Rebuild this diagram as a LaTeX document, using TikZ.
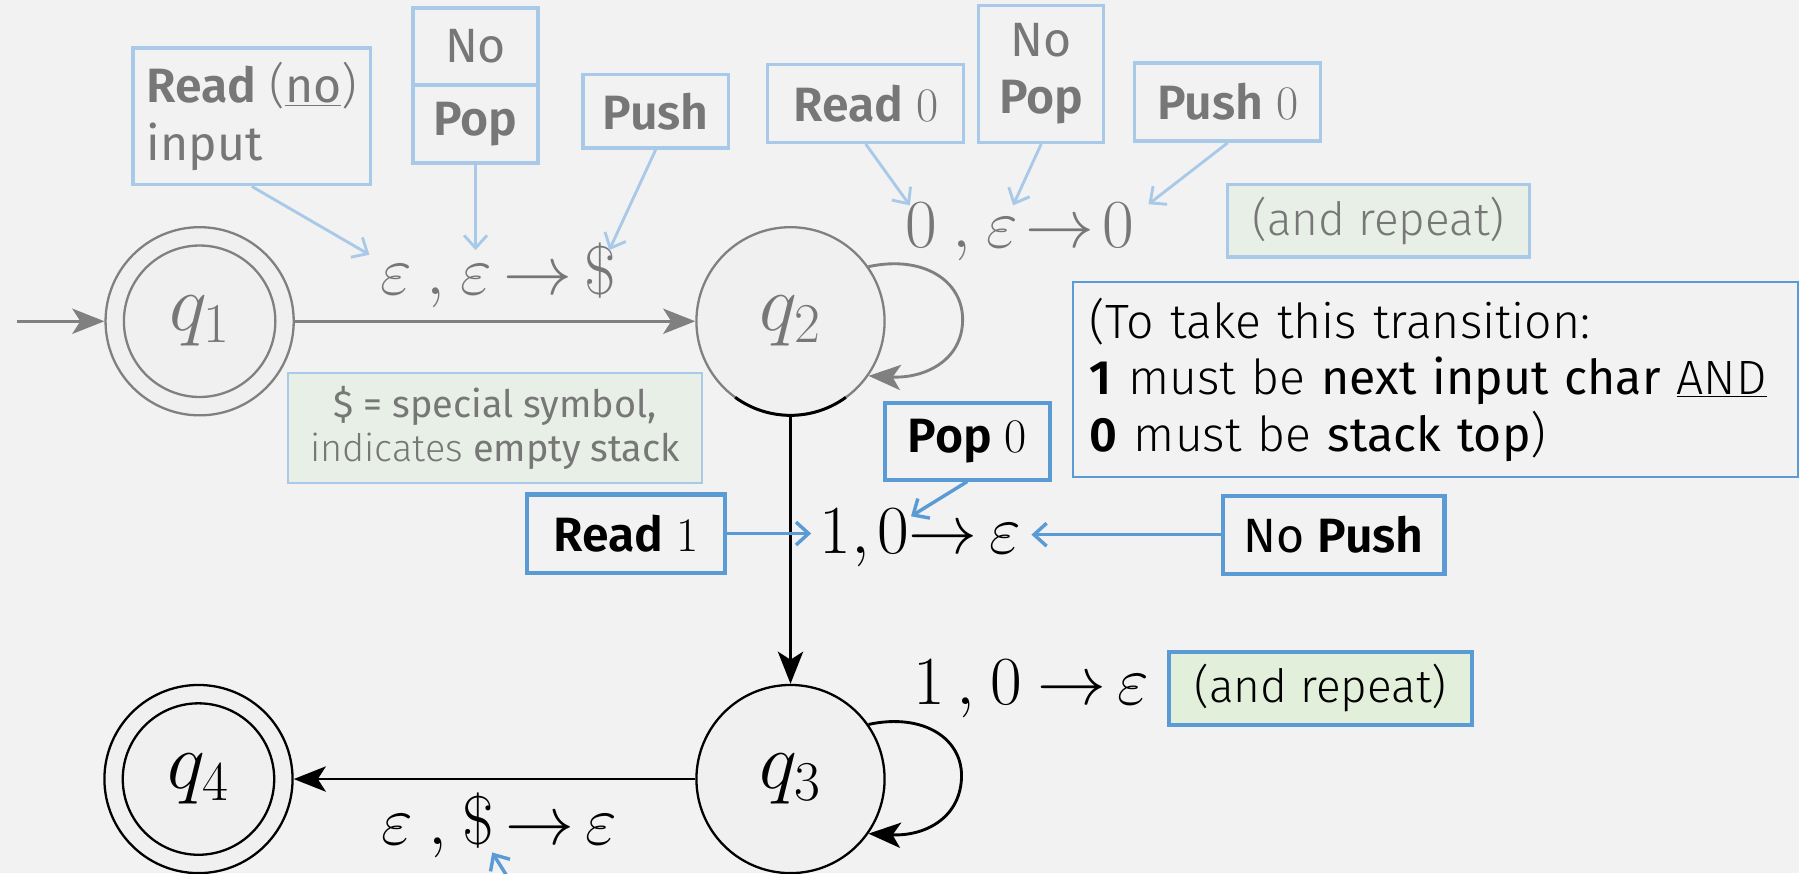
\documentclass[tikz,border=0pt]{standalone}
\usepackage{fix-cm}
\usepackage[no-math]{fontspec}
\usetikzlibrary{arrows.meta,calc}
\setmainfont{Fira Sans}
\IfFontExistsTF{FiraSans-Light.otf}
  {\newfontfamily\fsLight{FiraSans-Light.otf}}
  {\IfFontExistsTF{Fira Sans Light}{\newfontfamily\fsLight{Fira Sans Light}}{\newfontfamily\fsLight{Fira Sans}}}
\IfFontExistsTF{FiraSans-SemiBold.otf}
  {\newfontfamily\fsSemi{FiraSans-SemiBold.otf}}
  {\IfFontExistsTF{Fira Sans SemiBold}{\newfontfamily\fsSemi{Fira Sans SemiBold}}{\newcommand\fsSemi{\bfseries}}}

\definecolor{bg}{HTML}{F2F2F2}
\definecolor{statefill}{HTML}{F0F0F0}
\definecolor{fadeline}{HTML}{808080}
\definecolor{fadetext}{HTML}{777777}
\definecolor{paleblue}{HTML}{A9C9E8}
\definecolor{midblue}{HTML}{5B9BD5}
\definecolor{palegreen}{HTML}{E8EFE6}
\definecolor{livegreen}{HTML}{E2EFDA}

\newcommand\annfont{\fontsize{42}{50}\selectfont}
\newcommand\repfont{\fontsize{40}{46}\selectfont}
\newcommand\notefont{\fontsize{42}{49}\selectfont}
\newcommand\smallann{\fontsize{33}{39}\selectfont}

\tikzset{
  state/.style={circle, minimum size=164pt, inner sep=0pt, line width=2pt,
    fill=statefill, font=\fontsize{70}{80}\selectfont},
  fadestate/.style={state, draw=fadeline, text=fadetext},
  livestate/.style={state, draw=black, text=black},
  tip/.style={-{Stealth[length=28pt,width=22pt,inset=7pt]}},
  fadetrans/.style={draw=fadeline, line width=2.5pt, tip},
  livetrans/.style={draw=black, line width=2.5pt, tip},
  translabel/.style={inner sep=0pt, anchor=base, font=\fontsize{60}{66}\selectfont},
  fadebox/.style={draw=paleblue, line width=3pt, text=fadetext, inner sep=0pt,
    align=center, font=\annfont},
  livebox/.style={draw=midblue, line width=3.5pt, text=black, inner sep=0pt,
    align=center, font=\annfont},
  barb/.style={-{Straight Barb[length=11pt,width=20pt]}},
  fadepointer/.style={draw=paleblue, line width=2.5pt, barb},
  livepointer/.style={draw=midblue, line width=3pt, barb},
}

\begin{document}
\begin{tikzpicture}[x=1pt,y=-1pt]
\fill[bg] (0,0) rectangle (1568,761);
\useasboundingbox (0,0) rectangle (1568,761);
\clip (0,0) rectangle (1568,761);

% annotation boxes
\node[fadebox, minimum width=207pt, minimum height=119pt, align=left] (readno) at (219.5,101.5)
  {{\fsSemi Read} {\fsLight(}\underline{no}{\fsLight)}\\input};
\node[fadebox, minimum width=109pt, minimum height=67pt] (nopopa) at (414.5,40.5) {No};
\node[fadebox, minimum width=109pt, minimum height=68pt] (nopopb) at (414.5,108) {\fsSemi Pop};
\node[fadebox, minimum width=127pt, minimum height=64pt] (push) at (571.5,97) {\fsSemi Push};
\node[fadebox, minimum width=171pt, minimum height=68pt] (read0) at (754.5,90) {{\fsSemi Read} $0$};
\node[fadebox, minimum width=109pt, minimum height=119pt] (nopop2) at (907.5,64.5) {No\\{\fsSemi Pop}};
\node[fadebox, minimum width=162pt, minimum height=68pt] (push0) at (1070,89) {{\fsSemi Push} $0$};
\node[fadebox, fill=palegreen, minimum width=263pt, minimum height=63pt, font=\repfont] (rep1)
  at (1201.5,192.5) {\fsLight (and repeat)};

\node[draw=midblue, line width=1.8pt, text=black, minimum width=632pt, minimum height=170pt,
  text width=602pt, align=left, inner xsep=15pt, inner ysep=0pt, font=\notefont] (note) at (1251,331)
  {{\fsLight (To take this transition:}\\
   {\fsSemi 1} {\fsLight must be} next input char {\fsLight\underline{AND}}\\
   {\fsSemi 0} {\fsLight must be} stack top{\fsLight)}};

\node[fadebox, line width=1.8pt, fill=palegreen, minimum width=361pt, minimum height=96pt,
  font=\smallann] (dollar) at (431.5,373)
  {\$ = special symbol,\\{\fsLight indicates} empty stack};

\node[livebox, minimum width=173pt, minimum height=68pt] (read1) at (545.5,465) {{\fsSemi Read} $1$};
\node[livebox, minimum width=144pt, minimum height=67pt] (pop0) at (843,384.5) {{\fsSemi Pop} $0$};
\node[livebox, minimum width=193pt, minimum height=68pt] (nopush) at (1162.5,466) {No {\fsSemi Push}};
\node[livebox, fill=livegreen, minimum width=264pt, minimum height=64pt, font=\repfont] (rep2)
  at (1151,600) {\fsLight (and repeat)};

% states
\node[fadestate] (q1) at (174,280) {$q_1$};
\node[fadestate] (q2) at (689,280) {$q_2$};
\node[livestate] (q3) at (689,679) {$q_3$};
\node[livestate] (q4) at (173,679) {$q_4$};
\draw[fadeline, line width=2pt] (q1.center) circle[radius=66pt];
\draw[black, line width=2pt] (q4.center) circle[radius=66pt];
\draw[black, line width=2.6pt] ([shift={(234:82pt)}]q2.center) arc[start angle=234, end angle=306, radius=82pt];

% transitions
\coordinate (start) at (15,280);
\draw[fadetrans] (start) -- (q1);
\draw[fadetrans] (q1) -- (q2);
\draw[fadetrans] (q2.35) .. controls (805,222) and (840,245) .. (839,280)
  .. controls (838,315) and (805,330) .. (q2.-35);
\draw[livetrans] (q2) -- (q3);
\draw[livetrans] (q3) -- (q4);
\draw[livetrans] (q3.35) .. controls (805,621) and (840,644) .. (838,679)
  .. controls (836,714) and (805,729) .. (q3.-35);

% transition labels
\node[translabel, text=fadetext] (lab12) at (434,257)
  {$\varepsilon\mkern4mu,\mkern1mu\varepsilon\mkern3mu{\rightarrow}\mkern3mu\$$};
\node[translabel, text=fadetext] (lab22) at (889,216)
  {$0\mkern4mu,\mkern1mu\varepsilon\mkern2mu{\rightarrow}\mkern2mu0$};
\node[translabel] (lab23) at (802,482) {$1{,}\mkern2mu0{\rightarrow}\mkern3mu\varepsilon$};
\node[translabel] (lab33) at (899,614)
  {$1\mkern3mu,\mkern1mu0\mkern4mu{\rightarrow}\mkern3mu\varepsilon$};
\node[translabel] (lab34) at (435,736)
  {$\varepsilon\mkern4mu,\mkern1mu\$\mkern3mu{\rightarrow}\mkern3mu\varepsilon$};

% pointers from annotations
\coordinate (t1) at (322,222);
\coordinate (t2) at (414.5,218);
\coordinate (t3) at (531,218);
\coordinate (t4) at (793,179);
\coordinate (t5) at (883,179);
\coordinate (t6) at (1001,178);
\coordinate (t7) at (707,465);
\coordinate (t8) at (794,450);
\coordinate (t9) at (899,466);
\coordinate (t10) at (429,743);
\coordinate (s10) at (449,775);
\draw[fadepointer] (readno.south) -- (t1);
\draw[fadepointer] (nopopb.south) -- (t2);
\draw[fadepointer] (push.south) -- (t3);
\draw[fadepointer] (read0.south) -- (t4);
\draw[fadepointer] (nopop2.south) -- (t5);
\draw[fadepointer] (push0.south) -- (t6);
\draw[livepointer] (read1.east) -- (t7);
\draw[livepointer] (pop0.south) -- (t8);
\draw[livepointer] (nopush.west) -- (t9);
\draw[livepointer] (s10) -- (t10);
\end{tikzpicture}
\end{document}
